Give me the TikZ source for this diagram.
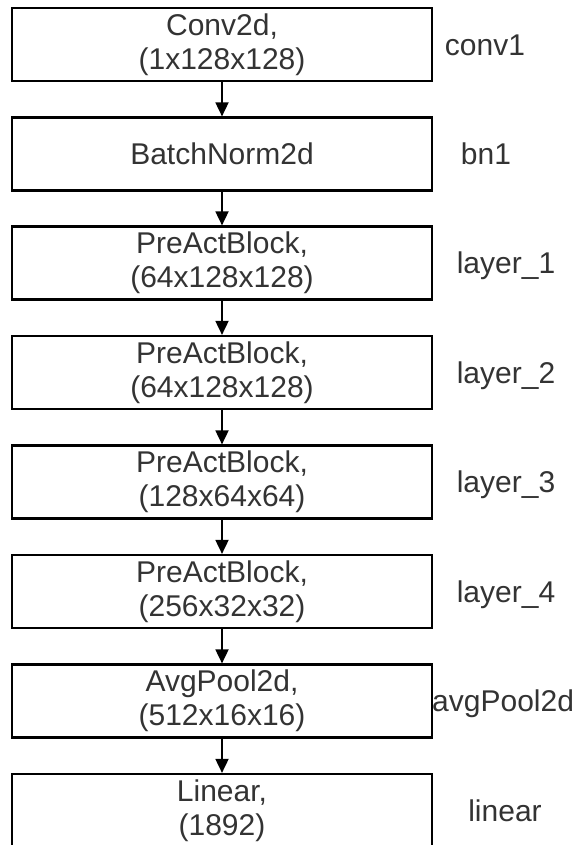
\documentclass[tikz,border=0pt]{standalone}
\usepackage{fontspec}
\setmainfont{Liberation Sans}
\usetikzlibrary{arrows.meta}

\tikzset{
  layerbox/.style={draw=black, line width=2.2pt, minimum width=420pt, minimum height=73pt,
    inner sep=0pt, align=center, text=black!80, font=\fontsize{30pt}{34pt}\selectfont},
  tag/.style={anchor=base, inner sep=0pt, text=black!80, font=\fontsize{30pt}{34pt}\selectfont},
  flow/.style={line width=1.8pt, -{Triangle[length=14pt, width=13pt]}}
}

\begin{document}
\begin{tikzpicture}[x=1pt, y=1pt]
  \useasboundingbox (0,0) rectangle (584,-845);

  % stacked network layers, 109.4pt apart
  \node[layerbox] (conv)  at (222,-44.5) {Conv2d,\\(1x128x128)};
  \node[layerbox] (bn)    at (222,-154)  {BatchNorm2d};
  \node[layerbox] (l1)    at (222,-263)  {PreActBlock,\\(64x128x128)};
  \node[layerbox] (l2)    at (222,-372.5){PreActBlock,\\(64x128x128)};
  \node[layerbox] (l3)    at (222,-482)  {PreActBlock,\\(128x64x64)};
  \node[layerbox] (l4)    at (222,-591.5){PreActBlock,\\(256x32x32)};
  \node[layerbox] (pool)  at (222,-701)  {AvgPool2d,\\(512x16x16)};
  \node[layerbox] (lin)   at (222,-810.5){Linear,\\(1892)};

  % module names
  \node[tag] (nconv) at (485,-55.2)  {conv1};
  \node[tag] (nbn)   at (486,-164.7) {bn1};
  \node[tag] (nl1)   at (506,-273.7) {layer\_1};
  \node[tag] (nl2)   at (506,-383.2) {layer\_2};
  \node[tag] (nl3)   at (506,-492.7) {layer\_3};
  \node[tag] (nl4)   at (506,-602.2) {layer\_4};
  \node[tag, anchor=base west] (npool) at (432,-711.7) {avgPool2d};
  \node[tag] (nlin)  at (505,-821.2) {linear};

  % data flow
  \draw[flow] (conv.south) -- (bn.north);
  \draw[flow] (bn.south)   -- (l1.north);
  \draw[flow] (l1.south)   -- (l2.north);
  \draw[flow] (l2.south)   -- (l3.north);
  \draw[flow] (l3.south)   -- (l4.north);
  \draw[flow] (l4.south)   -- (pool.north);
  \draw[flow] (pool.south) -- (lin.north);
\end{tikzpicture}
\end{document}
